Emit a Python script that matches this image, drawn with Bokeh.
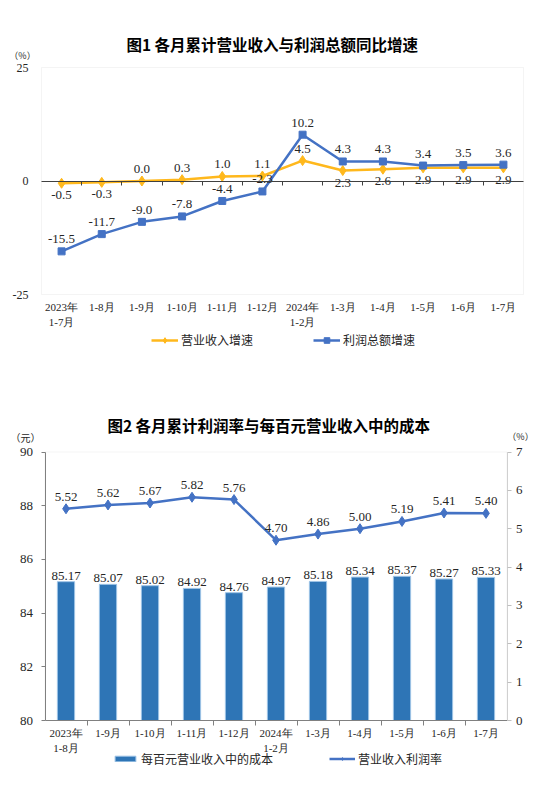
from bokeh.plotting import figure
from bokeh.models import Range1d, LinearAxis, FixedTicker, Label, Legend, LegendItem, BoxAnnotation
from bokeh.layouts import column
from bokeh.embed import file_html
from bokeh.resources import INLINE
from bokeh.core.properties import value

# ---------------- data ----------------
cats1 = ["2023年\n1-7月", "1-8月", "1-9月", "1-10月", "1-11月", "1-12月",
         "2024年\n1-2月", "1-3月", "1-4月", "1-5月", "1-6月", "1-7月"]
revenue_growth = [-0.5, -0.3, 0.0, 0.3, 1.0, 1.1, 4.5, 2.3, 2.6, 2.9, 2.9, 2.9]
profit_growth = [-15.5, -11.7, -9.0, -7.8, -4.4, -2.3, 10.2, 4.3, 4.3, 3.4, 3.5, 3.6]
y1_ticks = [-25, 0, 25]
revenue_label_below = [True, True, False, False, False, False, False, True, True, True, True, True]

cats2 = ["2023年\n1-8月", "1-9月", "1-10月", "1-11月", "1-12月", "2024年\n1-2月",
         "1-3月", "1-4月", "1-5月", "1-6月", "1-7月"]
cost_per_100 = [85.17, 85.07, 85.02, 84.92, 84.76, 84.97, 85.18, 85.34, 85.37, 85.27, 85.33]
profit_margin = [5.52, 5.62, 5.67, 5.82, 5.76, 4.70, 4.86, 5.00, 5.19, 5.41, 5.40]
y2_left_ticks = [80, 82, 84, 86, 88, 90]
y2_right_ticks = [0, 1, 2, 3, 4, 5, 6, 7]

title1 = "图1  各月累计营业收入与利润总额同比增速"
title2 = "图2  各月累计利润率与每百元营业收入中的成本"

# ---------------- style ----------------
SERIF = "Liberation Serif"
CJK = "Noto Sans CJK SC"
ORANGE = "#FFB81C"
BLUE = "#4472C4"
BAR = "#2E75B6"
TXT = "#262626"
W = 534


def ranges(H, left, right, top, bottom, x0, x1, y0, y1):
    """data ranges so that [x0,x1]x[y0,y1] maps to the pixel box (left,right,top,bottom) of a full-canvas frame"""
    sx = (right - left) / (x1 - x0)
    sy = (bottom - top) / (y1 - y0)
    return (x0 - left / sx, x1 + (W - right) / sx), (y0 - (H - bottom) / sy, y1 + top / sy)


def base_fig(H, xr, yr):
    p = figure(width=W, height=H, x_range=Range1d(*xr), y_range=Range1d(*yr),
               output_backend="svg", toolbar_location=None, x_axis_type=None, y_axis_type=None,
               min_border=0, min_border_left=0, min_border_right=0, min_border_top=0, min_border_bottom=0)
    p.outline_line_color = None
    p.grid.visible = False
    return p


def screen_label(p, H, x, y_top, text, size, bold=False, font=CJK, color=TXT):
    p.add_layout(Label(x=x, y=H - y_top, x_units="screen", y_units="screen", text=text,
                       text_align="center", text_baseline="middle", text_font=font,
                       text_font_style="bold" if bold else "normal", text_font_size=size, text_color=color))


# ================= Figure 1 =================
H1 = 390
n1 = len(cats1)
x1 = list(range(n1))
xr1, yr1 = ranges(H1, 41, 523, 67, 294, -0.5, n1 - 0.5, y1_ticks[0], y1_ticks[-1])
p1 = base_fig(H1, xr1, yr1)

p1.add_layout(BoxAnnotation(left=-0.5, right=n1 - 0.5, bottom=y1_ticks[0], top=y1_ticks[-1],
                            fill_alpha=0, line_color="#D9D9D9", line_width=1, level="underlay"))

ly1 = LinearAxis(fixed_location=-0.5, bounds=(y1_ticks[0], y1_ticks[-1]),
                 ticker=FixedTicker(ticks=y1_ticks, minor_ticks=[]),
                 major_label_overrides={t: str(t) for t in y1_ticks},
                 axis_line_color=None, major_tick_line_color=None, minor_tick_line_color=None,
                 major_tick_out=0, major_label_text_font=SERIF, major_label_text_font_size="12px",
                 major_label_text_color=TXT, major_label_standoff=13)
p1.add_layout(ly1, "left")

bx1 = LinearAxis(fixed_location=y1_ticks[0], bounds=(-0.5, n1 - 0.5),
                 ticker=FixedTicker(ticks=x1, minor_ticks=[]),
                 major_label_overrides={i: c for i, c in enumerate(cats1)},
                 axis_line_color=None, major_tick_line_color=None, minor_tick_line_color=None,
                 major_tick_out=0, major_label_text_font=SERIF, major_label_text_font_size="11px",
                 major_label_text_line_height=1.3, major_label_text_color=TXT, major_label_standoff=6)
p1.add_layout(bx1, "below")

zx1 = LinearAxis(fixed_location=0, bounds=(-0.5, n1 - 0.5),
                 ticker=FixedTicker(ticks=[i + 0.5 for i in range(n1 - 1)], minor_ticks=[]),
                 axis_line_color="#404040", axis_line_width=1, major_tick_line_color="#404040",
                 major_tick_in=0, major_tick_out=4, minor_tick_line_color=None,
                 major_label_overrides={i + 0.5: "" for i in range(n1 - 1)})
p1.add_layout(zx1, "below")

r_line = p1.line(x1, revenue_growth, line_color=ORANGE, line_width=2.5)
r_pts = p1.scatter(x1, revenue_growth, marker="diamond", size=10, fill_color=ORANGE, line_color=ORANGE)
pr_line = p1.line(x1, profit_growth, line_color=BLUE, line_width=2.5)
pr_pts = p1.scatter(x1, profit_growth, marker="square", size=7, fill_color=BLUE, line_color=BLUE)

above_i = [i for i in x1 if not revenue_label_below[i]]
below_i = [i for i in x1 if revenue_label_below[i]]
p1.text(x=above_i, y=[revenue_growth[i] for i in above_i], text=[f"{revenue_growth[i]:.1f}" for i in above_i],
        text_font=value(SERIF), text_font_size="13px", text_color=TXT, text_align="center",
        text_baseline="middle", y_offset=-12)
p1.text(x=below_i, y=[revenue_growth[i] for i in below_i], text=[f"{revenue_growth[i]:.1f}" for i in below_i],
        text_font=value(SERIF), text_font_size="13px", text_color=TXT, text_align="center",
        text_baseline="middle", y_offset=12)
p1.text(x=x1, y=profit_growth, text=[f"{v:.1f}" for v in profit_growth],
        text_font=value(SERIF), text_font_size="13px", text_color=TXT, text_align="center",
        text_baseline="middle", y_offset=-12)

leg1 = Legend(items=[LegendItem(label="营业收入增速", renderers=[r_line, r_pts]),
                     LegendItem(label="利润总额增速", renderers=[pr_line, pr_pts])],
              orientation="horizontal", location=(151, H1 - 341 - 7), spacing=60, glyph_width=27,
              glyph_height=14, label_height=14, label_standoff=3, label_text_font=CJK,
              label_text_font_size="12px", label_text_color=TXT, border_line_color=None,
              background_fill_alpha=0, padding=0, margin=0)
p1.add_layout(leg1)

screen_label(p1, H1, 273.5, 43, title1, "15.5px", bold=True, color="#000000")
screen_label(p1, H1, 22, 55, "（%）", "9px")

# ================= Figure 2 =================
H2 = 414
TOP2 = 390  # page y where figure 2 starts
n2 = len(cats2)
x2 = list(range(n2))
box2 = (44.5, 506.5, 451.5 - TOP2, 720 - TOP2)
xr2, yr2 = ranges(H2, *box2, -0.5, n2 - 0.5, y2_left_ticks[0], y2_left_ticks[-1])
_, yr2r = ranges(H2, *box2, -0.5, n2 - 0.5, y2_right_ticks[0], y2_right_ticks[-1])
p2 = base_fig(H2, xr2, yr2)
p2.extra_y_ranges = {"r": Range1d(*yr2r)}

p2.add_layout(BoxAnnotation(left=-0.5, right=n2 - 0.5, bottom=y2_left_ticks[0], top=y2_left_ticks[-1],
                            fill_alpha=0, line_color="#D9D9D9", line_width=1, level="underlay"))

ly2 = LinearAxis(fixed_location=-0.5, bounds=(y2_left_ticks[0], y2_left_ticks[-1]),
                 ticker=FixedTicker(ticks=y2_left_ticks, minor_ticks=[]), axis_line_color="#808080",
                 major_tick_line_color="#808080", major_tick_in=0, major_tick_out=4,
                 minor_tick_line_color=None, major_label_text_font=SERIF, major_label_text_font_size="13px",
                 major_label_text_color=TXT, major_label_standoff=8)
p2.add_layout(ly2, "left")
ry2 = LinearAxis(fixed_location=n2 - 0.5, y_range_name="r", bounds=(y2_right_ticks[0], y2_right_ticks[-1]),
                 ticker=FixedTicker(ticks=y2_right_ticks, minor_ticks=[]),
                 axis_line_color="#D0D0D0", major_tick_line_color="#BFBFBF", major_tick_in=0,
                 major_tick_out=4, minor_tick_line_color=None, major_label_text_font=SERIF,
                 major_label_text_font_size="13px", major_label_text_color=TXT, major_label_standoff=5)
p2.add_layout(ry2, "right")

bars = p2.vbar(x=x2, top=cost_per_100, bottom=y2_left_ticks[0], width=0.41,
               fill_color=BAR, line_color="#9DC3E6", line_width=1)

bx2 = LinearAxis(fixed_location=y2_left_ticks[0], bounds=(-0.5, n2 - 0.5),
                 ticker=FixedTicker(ticks=x2, minor_ticks=[i + 0.5 for i in range(n2 - 1)]),
                 major_label_overrides={i: c for i, c in enumerate(cats2)},
                 axis_line_color="#808080", major_tick_line_color=None, major_tick_out=0, major_tick_in=0,
                 minor_tick_line_color="#808080", minor_tick_in=0, minor_tick_out=5,
                 major_label_text_font=SERIF, major_label_text_font_size="11px",
                 major_label_text_line_height=1.3, major_label_text_color=TXT, major_label_standoff=1)
p2.add_layout(bx2, "below")

p2.text(x=x2, y=cost_per_100, text=[f"{v:.2f}" for v in cost_per_100],
        text_font=value(SERIF), text_font_size="13px", text_color=TXT, text_align="center",
        text_baseline="bottom", y_offset=-2)

m_line = p2.line(x2, profit_margin, y_range_name="r", line_color=BLUE, line_width=2.5)
m_pts = p2.scatter(x2, profit_margin, y_range_name="r", marker="diamond", size=10,
                   fill_color=BLUE, line_color=BLUE)
p2.text(x=x2, y=profit_margin, y_range_name="r", text=[f"{v:.2f}" for v in profit_margin],
        text_font=value(SERIF), text_font_size="13px", text_color=TXT, text_align="center",
        text_baseline="middle", y_offset=-12)

leg2 = Legend(items=[LegendItem(label="每百元营业收入中的成本", renderers=[bars]),
                     LegendItem(label="营业收入利润率", renderers=[m_line, m_pts])],
              orientation="horizontal", location=(112, H2 - (763 - TOP2) - 3.5), spacing=56, glyph_width=26,
              glyph_height=7, label_height=7, label_standoff=3, label_text_font=CJK,
              label_text_font_size="12px", label_text_color=TXT, border_line_color=None,
              background_fill_alpha=0, padding=0, margin=0)
p2.add_layout(leg2)

screen_label(p2, H2, 270, 424 - TOP2, title2, "15.5px", bold=True, color="#000000")
screen_label(p2, H2, 25, 437 - TOP2, "（元）", "10px")
screen_label(p2, H2, 520, 436 - TOP2, "（%）", "9px")

layout = column(p1, p2, spacing=0)
with open("out.html", "w") as f:
    f.write(file_html(layout, INLINE))
